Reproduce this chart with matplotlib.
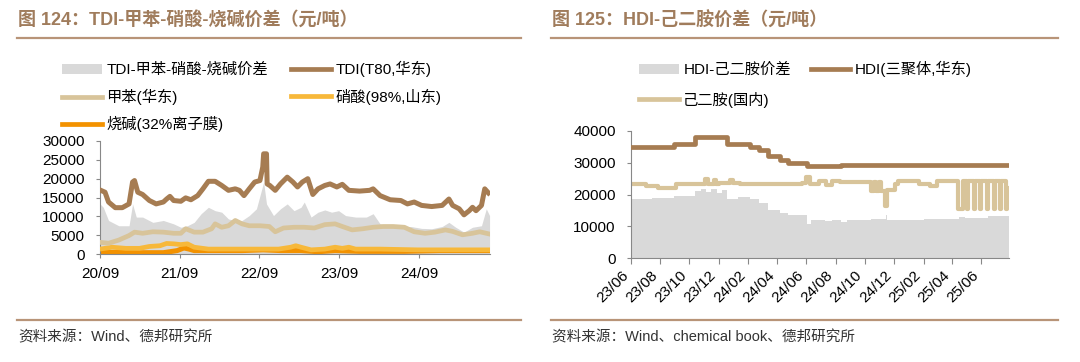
import numpy as np
import pandas as pd
import matplotlib
matplotlib.use("Agg")
import matplotlib.pyplot as plt
import matplotlib.dates as mdates
from matplotlib.lines import Line2D
from matplotlib.patches import Patch

plt.rcParams['font.family'] = ['Liberation Sans', 'Noto Sans CJK SC', 'DejaVu Sans']

# ---- 图124 数据 ----
tdi_dates = ["2020-09-01", "2020-09-24", "2020-10-10", "2020-11-10", "2020-12-12", "2021-01-12",
             "2021-01-28", "2021-02-06", "2021-02-21", "2021-03-15", "2021-04-15", "2021-05-16",
             "2021-06-18", "2021-07-03", "2021-07-18", "2021-08-04", "2021-09-06", "2021-09-28",
             "2021-10-22", "2021-11-22", "2021-12-16", "2022-01-10", "2022-02-10", "2022-03-12",
             "2022-04-12", "2022-05-13", "2022-06-01", "2022-06-22", "2022-07-16", "2022-08-10",
             "2022-09-03", "2022-09-16", "2022-09-20", "2022-10-03", "2022-10-06", "2022-10-18",
             "2022-11-12", "2022-12-06", "2023-01-06", "2023-02-01", "2023-02-22", "2023-03-16",
             "2023-04-10", "2023-05-03", "2023-05-27", "2023-06-27", "2023-07-21", "2023-08-21",
             "2023-09-15", "2023-10-15", "2023-12-03", "2024-01-18", "2024-02-03", "2024-03-06",
             "2024-04-21", "2024-06-09", "2024-07-09", "2024-08-09", "2024-09-12", "2024-10-28",
             "2024-12-15", "2025-01-15", "2025-02-01", "2025-03-03", "2025-03-25", "2025-04-18",
             "2025-05-03", "2025-05-19", "2025-06-13", "2025-06-28", "2025-07-15"]
tdi = [17000, 16400, 13800, 12300, 12300, 13300, 19100, 19500, 16400, 15800, 14200, 13300,
       13800, 14600, 15300, 14200, 14000, 14900, 14400, 15500, 17300, 19300, 19300, 18200,
       16900, 17300, 16900, 15500, 17300, 19100, 19500, 23100, 26600, 26600, 18600, 18200,
       16900, 18600, 20400, 19100, 17800, 19100, 20000, 15800, 17300, 18200, 18600, 17800,
       18500, 16900, 16700, 16900, 17300, 15500, 14400, 14200, 13300, 13800, 12900, 12600,
       12900, 14600, 12900, 12000, 10400, 11500, 12400, 11500, 12900, 17300, 16200]

toluene_dates = ["2020-09-01", "2020-10-10", "2020-11-26", "2021-01-12", "2021-02-06", "2021-03-15",
                 "2021-05-01", "2021-06-18", "2021-08-04", "2021-09-06", "2021-09-28", "2021-11-06",
                 "2021-12-16", "2022-01-25", "2022-02-10", "2022-03-12", "2022-04-12", "2022-05-13",
                 "2022-06-13", "2022-07-16", "2022-09-03", "2022-10-16", "2022-11-12", "2022-12-20",
                 "2023-02-06", "2023-03-25", "2023-05-10", "2023-06-27", "2023-08-13", "2023-09-15",
                 "2023-10-30", "2023-12-18", "2024-02-03", "2024-03-20", "2024-05-05", "2024-06-25",
                 "2024-08-09", "2024-09-28", "2024-11-12", "2024-12-30", "2025-02-01", "2025-03-18",
                 "2025-05-03", "2025-06-05", "2025-07-20"]
toluene = [3100, 2850, 3700, 4900, 5800, 5500, 5900, 5800, 5500, 5500, 6700, 5800,
           5800, 6700, 8000, 7100, 7500, 8900, 8000, 7500, 7500, 7300, 5900, 6900,
           7100, 7100, 6900, 7800, 8000, 7300, 6400, 6700, 7100, 7300, 7300, 7100,
           5900, 5500, 5800, 6400, 6000, 5100, 5500, 5900, 5300]

nitric_dates = ["2020-09-01", "2020-10-26", "2020-12-28", "2021-03-01", "2021-04-15", "2021-06-03",
                "2021-07-03", "2021-08-04", "2021-09-06", "2021-10-06", "2021-11-06", "2022-01-10",
                "2022-04-01", "2022-06-22", "2022-09-03", "2022-11-27", "2023-01-22", "2023-02-14",
                "2023-03-10", "2023-04-25", "2023-06-27", "2023-08-13", "2023-09-15", "2023-10-15",
                "2023-11-15", "2024-03-06", "2024-08-25", "2025-01-31", "2025-07-20"]
nitric = [1300, 1800, 1500, 1500, 2000, 2200, 2800, 2700, 2500, 2700, 1800, 1300,
          1300, 1300, 1300, 1300, 1800, 2200, 1800, 1100, 1300, 1800, 1500, 1800,
          1300, 1300, 1100, 1100, 1100]

caustic_dates = ["2020-09-01", "2021-03-01", "2021-06-18", "2021-08-20", "2021-09-20", "2021-10-14",
                 "2021-11-06", "2022-02-10", "2022-06-13", "2022-09-18", "2022-12-06", "2023-03-10",
                 "2023-05-27", "2023-08-13", "2023-12-03", "2024-06-25", "2024-12-05", "2025-04-25",
                 "2025-07-20"]
caustic = [450, 350, 350, 900, 1600, 1300, 900, 900, 900, 1100, 900, 900,
           600, 900, 700, 700, 900, 900, 900]

spread_dates = ["2020-09-01", "2020-09-16", "2020-10-10", "2020-11-26", "2021-01-12", "2021-01-28",
                "2021-02-14", "2021-03-15", "2021-05-01", "2021-06-18", "2021-08-04", "2021-09-06",
                "2021-10-06", "2021-11-06", "2021-12-08", "2022-01-10", "2022-02-10", "2022-03-12",
                "2022-04-12", "2022-05-13", "2022-06-13", "2022-07-16", "2022-08-18", "2022-09-20",
                "2022-10-03", "2022-11-04", "2022-12-06", "2023-01-06", "2023-02-06", "2023-03-10",
                "2023-03-25", "2023-04-25", "2023-05-27", "2023-06-27", "2023-07-28", "2023-08-29",
                "2023-09-30", "2023-11-15", "2024-01-03", "2024-02-03", "2024-03-06", "2024-04-21",
                "2024-06-09", "2024-07-25", "2024-09-12", "2024-10-28", "2024-12-15", "2025-01-15",
                "2025-02-15", "2025-03-25", "2025-05-03", "2025-06-13", "2025-07-05", "2025-07-20"]
spread = [13300, 12400, 8900, 7500, 7500, 13300, 9800, 9800, 8400, 8900, 8000, 7100,
          7500, 8400, 10700, 12400, 11500, 11100, 9300, 8900, 8900, 10200, 12000, 19100,
          13300, 10200, 12000, 13300, 11500, 12400, 13800, 9800, 11100, 11700, 11100, 11500,
          10200, 9800, 9800, 10700, 8000, 7100, 7100, 7300, 6800, 6700, 7300, 8400,
          7100, 5800, 7100, 7500, 12000, 10200]

# ---- 图125 数据 ----
hdi_dates = ["2023-06-01", "2023-08-29", "2023-10-12", "2023-12-19", "2024-02-05", "2024-02-23",
             "2024-03-14", "2024-04-06", "2024-04-23", "2024-06-02", "2024-08-13", "2025-07-28"]
hdi = [35000, 36000, 38000, 36000, 35000, 34000, 32000, 31000, 30000, 29000, 29400, 29400]

hda_dates = ["2023-06-01", "2023-07-03", "2023-07-28", "2023-09-02", "2023-11-03", "2023-11-08",
             "2023-11-21", "2023-11-26", "2023-12-02", "2023-12-24", "2023-12-30", "2024-01-15",
             "2024-05-22", "2024-06-01", "2024-06-08", "2024-06-28", "2024-07-13", "2024-07-25",
             "2024-08-10", "2024-10-14", "2024-10-20", "2024-10-24", "2024-10-30", "2024-11-03",
             "2024-11-13", "2024-11-17", "2024-12-04", "2024-12-10", "2025-01-22", "2025-02-14",
             "2025-02-28", "2025-04-14", "2025-04-24", "2025-05-03", "2025-05-05", "2025-05-16",
             "2025-05-18", "2025-05-30", "2025-06-01", "2025-06-13", "2025-06-15", "2025-06-27",
             "2025-06-29", "2025-07-10", "2025-07-12", "2025-07-22", "2025-07-24", "2025-07-28"]
hda = [23400, 22700, 22000, 23400, 24800, 23400,
       24500, 23400, 23600, 24500, 23600, 23400,
       23600, 25600, 23400, 24200, 23100, 24200,
       24000, 21200, 24000, 21200, 24000, 21200,
       16500, 21500, 23400, 24200, 23400, 22700,
       24200, 15500, 24200, 15500, 24200, 15500,
       24200, 15500, 24200, 15500, 24200, 15500,
       24200, 15500, 24200, 15500, 22000, 22000]

hspread_dates = ["2023-06-01", "2023-07-15", "2023-08-29", "2023-10-12", "2023-10-25", "2023-11-05",
                 "2023-11-15", "2023-11-28", "2023-12-08", "2023-12-19", "2024-01-10", "2024-02-05",
                 "2024-02-23", "2024-03-14", "2024-04-06", "2024-04-23", "2024-06-02", "2024-06-10",
                 "2024-07-10", "2024-07-25", "2024-08-13", "2024-08-25", "2024-10-14", "2024-11-14",
                 "2024-11-17", "2025-02-01", "2025-04-16", "2025-04-28", "2025-06-16", "2025-07-28"]
hspread = [18500, 18800, 19400, 21000, 21800, 20800,
           21600, 20600, 21400, 18700, 19200, 18500,
           17300, 15000, 14200, 13600, 10800, 12000,
           11500, 12000, 11300, 12100, 12300, 13500,
           12100, 12400, 13000, 12600, 13200, 12800]

brown = '#a67c52'
tan = '#d8c49a'
yellow = '#f7b83a'
orange = '#f39200'
grey = '#d9d9d9'
title_c = '#a07c5c'
rule_c = '#b89478'

fig = plt.figure(figsize=(10.8, 3.62), dpi=100)

def frame(x0, x1, title, source):
    fig.text(x0 + 1 / 1080, 1 - 21 / 362, title, fontsize=13, fontweight='bold',
             color=title_c, va='center', ha='left')
    fig.add_artist(Line2D([x0, x1], [1 - 38 / 362] * 2, color=rule_c, lw=1.6))
    fig.add_artist(Line2D([x0, x1], [1 - 320 / 362] * 2, color=rule_c, lw=1.6))
    fig.text(x0 + 1 / 1080, 1 - 337 / 362, source, fontsize=10.5, color='#333333',
             va='center', ha='left')

def style(ax):
    for s in ['top', 'right']:
        ax.spines[s].set_visible(False)
    for s in ['left', 'bottom']:
        ax.spines[s].set_color('#888888')
        ax.spines[s].set_linewidth(0.8)
    ax.tick_params(axis='both', labelsize=11, length=3, width=0.8, color='#888888',
                   direction='out')
    ax.tick_params(axis='y', pad=8)

frame(17 / 1080, 521 / 1080, "图 124：TDI-甲苯-硝酸-烧碱价差（元/吨）", "资料来源：Wind、德邦研究所")
frame(551 / 1080, 1058 / 1080, "图 125：HDI-己二胺价差（元/吨）", "资料来源：Wind、chemical book、德邦研究所")

# ---- 左图 ----
ax1 = fig.add_axes([100 / 1080, 1 - 254 / 362, 390 / 1080, 113 / 362])
ax1.fill_between(pd.to_datetime(spread_dates), spread, color=grey, lw=0, zorder=1)
ax1.plot(pd.to_datetime(caustic_dates), caustic, color=orange, lw=3.6, zorder=2)
ax1.plot(pd.to_datetime(nitric_dates), nitric, color=yellow, lw=3.4, zorder=3)
ax1.plot(pd.to_datetime(toluene_dates), toluene, color=tan, lw=3.4, zorder=4)
ax1.plot(pd.to_datetime(tdi_dates), tdi, color=brown, lw=3.6, zorder=5)
ax1.set_ylim(0, 30000)
ax1.set_yticks(np.arange(0, 30001, 5000))
ax1.set_xlim(pd.Timestamp("2020-09-01"), pd.Timestamp("2025-07-22"))
ax1.set_xticks(pd.to_datetime(["2020-09-01", "2021-09-01", "2022-09-01", "2023-09-01", "2024-09-01"]))
ax1.xaxis.set_major_formatter(mdates.DateFormatter('%y/%m'))
style(ax1)
ax1.tick_params(axis='x', pad=6)

h1 = [Patch(facecolor=grey, edgecolor='none'),
      Line2D([], [], color=tan, lw=3.4),
      Line2D([], [], color=orange, lw=3.4),
      Line2D([], [], color=brown, lw=3.4),
      Line2D([], [], color=yellow, lw=3.4)]
l1 = ["TDI-甲苯-硝酸-烧碱价差", "甲苯(华东)", "烧碱(32%离子膜)", "TDI(T80,华东)", "硝酸(98%,山东)"]
fig.legend(h1, l1, ncol=2, loc='upper left', bbox_to_anchor=(62 / 1080, 1 - 61 / 362),
           frameon=False, fontsize=11, handlelength=2.6, handletextpad=0.3,
           columnspacing=1.5, labelspacing=0.75, borderpad=0, borderaxespad=0)

# ---- 右图 ----
ax2 = fig.add_axes([631 / 1080, 1 - 258 / 362, 378 / 1080, 127 / 362])
ax2.fill_between(pd.to_datetime(hspread_dates), hspread, step='post', color=grey, lw=0, zorder=1)
ax2.plot(pd.to_datetime(hda_dates), hda, color=tan, lw=3, drawstyle='steps-post', zorder=2)
ax2.plot(pd.to_datetime(hdi_dates), hdi, color=brown, lw=3.4, drawstyle='steps-post', zorder=3)
ax2.set_ylim(0, 40000)
ax2.set_yticks(np.arange(0, 40001, 10000))
ax2.set_xlim(pd.Timestamp("2023-06-01"), pd.Timestamp("2025-07-29"))
ax2.set_xticks(pd.date_range("2023-06-01", "2025-06-01", freq='2MS'))
ax2.xaxis.set_major_formatter(mdates.DateFormatter('%y/%m'))
style(ax2)
ax2.tick_params(axis='x', length=4)
for lab in ax2.get_xticklabels():
    lab.set_rotation(45)
    lab.set_ha('right')

h2 = [Patch(facecolor=grey, edgecolor='none'),
      Line2D([], [], color=tan, lw=3.4),
      Line2D([], [], color=brown, lw=3.4)]
l2 = ["HDI-己二胺价差", "己二胺(国内)", "HDI(三聚体,华东)"]
fig.legend(h2, l2, ncol=2, loc='upper left', bbox_to_anchor=(639 / 1080, 1 - 61 / 362),
           frameon=False, fontsize=11, handlelength=2.6, handletextpad=0.3,
           columnspacing=1.3, labelspacing=0.95, borderpad=0, borderaxespad=0)

fig.savefig("out.png", dpi=100)
